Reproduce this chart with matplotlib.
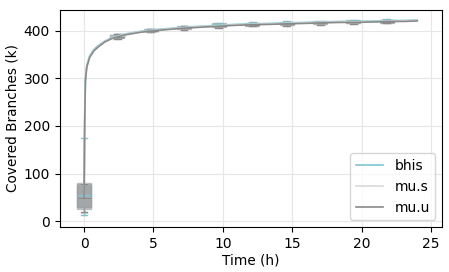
import matplotlib
matplotlib.use("Agg")
import matplotlib.pyplot as plt

# ---- data ----
time_h = [0.0, 0.02, 0.05, 0.1, 0.2, 0.4, 0.7, 1.0, 1.5, 2.0, 2.4, 3.0, 4.0, 4.8,
          6.0, 7.2, 8.5, 9.7, 11.0, 12.1, 13.5, 14.6, 16.0, 17.0, 18.5, 19.4, 21.0,
          21.8, 23.0, 24.0]
bhis = [57, 120, 215, 298, 327, 347, 360, 368, 378, 385, 389, 393, 398, 401,
        404, 407, 409, 411, 413, 414, 415, 416, 417, 418, 419, 419, 420, 421, 421, 422]
mu_s = [52, 118, 212, 296, 325, 345, 358, 366, 377, 384, 388, 392, 397, 400,
        403, 406, 408, 410, 412, 413, 414, 415, 416, 417, 418, 418, 419, 420, 420, 421]
mu_u = [48, 115, 208, 294, 323, 343, 357, 365, 376, 383, 387, 391, 396, 399,
        402, 405, 407, 409, 411, 412, 413, 414, 415, 416, 417, 417, 418, 419, 419, 420]

box_times = [0.0, 2.4, 4.8, 7.2, 9.7, 12.1, 14.6, 17.0, 19.4, 21.8]
# per series: (whislo, q1, med, q3, whishi) at each box time
bhis_box = [(13, 27, 55, 75, 175), (385, 387, 389, 391, 393), (398, 400, 401, 403, 404),
            (404, 406, 407, 409, 410), (409, 411, 413, 415, 416), (411, 413, 414, 416, 417),
            (413, 414, 416, 418, 419), (414, 416, 417, 419, 420), (416, 417, 419, 421, 422),
            (417, 419, 421, 423, 424)]
mu_s_box = [(18, 30, 50, 80, 80), (384, 386, 388, 390, 392), (397, 399, 400, 402, 403),
            (403, 405, 406, 408, 409), (408, 410, 411, 413, 414), (410, 412, 413, 415, 416),
            (412, 413, 415, 416, 417), (413, 415, 416, 417, 418), (415, 416, 418, 419, 420),
            (416, 418, 419, 420, 421)]
mu_u_box = [(19, 30, 48, 78, 78), (382, 384, 387, 390, 392), (396, 398, 399, 401, 403),
            (402, 404, 405, 407, 409), (406, 408, 409, 412, 413), (409, 410, 412, 414, 415),
            (410, 412, 414, 415, 417), (412, 413, 415, 417, 418), (413, 415, 417, 418, 420),
            (415, 416, 418, 420, 421)]

names = ["bhis", "mu.s", "mu.u"]
colors = ["#7fc6d2", "#d9d9d9", "#8a8a8a"]

fig, ax = plt.subplots(figsize=(4.49, 2.72), dpi=100)
fig.subplots_adjust(left=0.133, right=0.985, top=0.965, bottom=0.165)

for vals, boxes, name, col in zip([bhis, mu_s, mu_u], [bhis_box, mu_s_box, mu_u_box], names, colors):
    ax.plot(time_h, vals, color=col, lw=1.2, label=name, zorder=3)
    stats = []
    for t, (lo, q1, med, q3, hi) in zip(box_times, boxes):
        stats.append(dict(whislo=lo, q1=q1, med=med, q3=q3, whishi=max(hi, q3), fliers=[]))
    ax.bxp(stats, positions=box_times, widths=1.0, patch_artist=True, showfliers=False,
           boxprops=dict(facecolor="#9a9fa1", edgecolor="#9a9fa1", alpha=0.55),
           medianprops=dict(color=col, lw=1),
           whiskerprops=dict(color="#9a9fa1", lw=1),
           capprops=dict(color=col, lw=1), manage_ticks=False)

ax.set_xlim(-1.75, 25.8)
ax.set_ylim(-12, 444)
ax.set_xticks([0, 5, 10, 15, 20, 25])
ax.set_yticks([0, 100, 200, 300, 400])
ax.grid(True, color="#e6e6e6", lw=0.8)
ax.set_axisbelow(True)
ax.set_xlabel("Time (h)", fontsize=9.8, labelpad=2)
ax.set_ylabel("Covered Branches (k)", fontsize=9.8, labelpad=3)
ax.tick_params(labelsize=10)
ax.legend(loc="lower right", fontsize=10, handlelength=2.0)

fig.savefig("out.png", dpi=100)
